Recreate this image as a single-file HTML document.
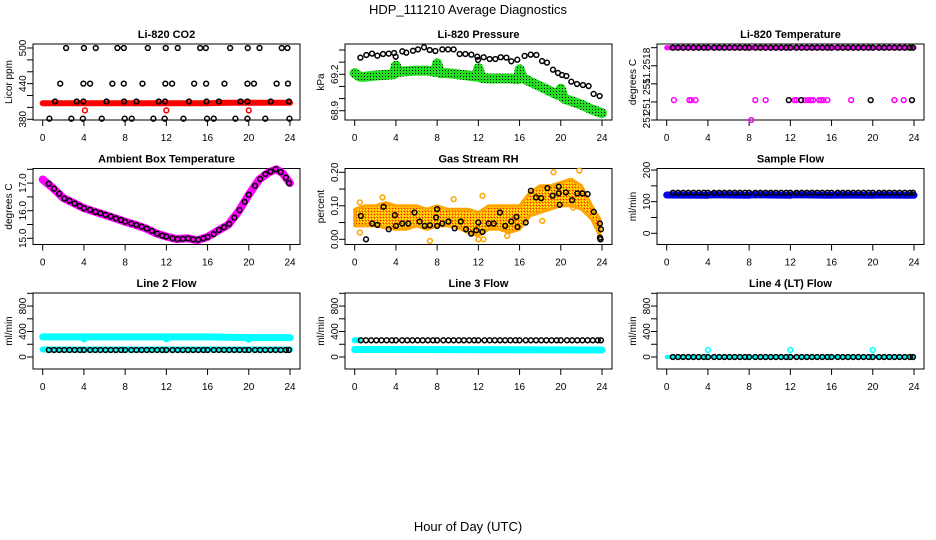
<!DOCTYPE html>
<html><head><meta charset="utf-8"><style>
html,body{margin:0;padding:0;background:#fff;}
svg{display:block;font-family:"Liberation Sans",sans-serif;}
</style></head><body>
<svg id="chart" width="936" height="540" viewBox="0 0 936 540" xmlns="http://www.w3.org/2000/svg">
<defs>
<pattern id="greenDots" width="3" height="3" patternUnits="userSpaceOnUse"><rect width="3" height="3" fill="#22dd22"/><rect x="1" y="1" width="1" height="1" fill="#000"/></pattern>
<pattern id="rhDots" width="3" height="3" patternUnits="userSpaceOnUse"><rect width="3" height="3" fill="#ffa500"/><rect x="0" y="0" width="1" height="1" fill="#ffff00"/><rect x="2" y="1" width="1" height="1" fill="#ff2200"/><rect x="1" y="2" width="1" height="1" fill="#ffff00"/></pattern>
</defs>
<text x="468" y="14" text-anchor="middle" font-size="13">HDP_111210  Average Diagnostics</text>
<text x="468" y="531" text-anchor="middle" font-size="13">Hour of Day (UTC)</text>
</svg>
<script>
// ---- shared hour grid for half-hourly averages ----
const halfHours = [0.6,1.1,1.6,2.1,2.6,3.1,3.6,4.0,4.6,5.1,5.6,6.1,6.6,7.1,7.6,8.0,8.6,9.1,9.6,10.1,10.6,11.1,11.6,12.0,12.6,13.1,13.6,14.1,14.6,15.1,15.6,16.0,16.6,17.1,17.6,18.1,18.6,19.1,19.6,20.0,20.6,21.1,21.6,22.1,22.6,23.1,23.6,23.9];
const xTicks = [0,4,8,12,16,20,24];

// ---- CO2 ----
const co2BlackHours = [2.27,4.0,5.15,7.25,7.87,10.2,11.94,13.1,15.28,15.83,18.19,19.9,21.04,23.2,23.75, 1.7,3.95,4.6,6.76,7.87,9.68,11.9,12.56,14.7,15.86,17.64,19.87,20.5,22.7,23.8, 1.2,3.3,3.95,6.2,7.9,9.1,11.26,11.88,14.2,15.9,17.1,19.2,19.87,22.13,23.9, 0.65,2.78,3.9,5.73,7.96,8.64,10.74,11.84,13.66,15.95,16.6,18.7,19.87,21.6,23.95];
const co2BlackPpm = [500,500,500,500,500,500,500,500,500,500,500,500,500,500,500, 440,440,440,440,440,440,440,440,440,440,440,440,440,440,440, 410,410,410,410,410,410,410,410,410,410,410,410,410,410,410, 381,381,381,381,381,381,381,381,381,381,381,381,381,381,381];
const co2RedHours = [0,2,4,6,8,10,12,14,16,18,20,22,24];
const co2RedPpm = [407,407,407,407,407,407,407,407,407,408,408,408,408];
const co2RedOutHours = [4.1,12.0,20.0];
const co2RedOutPpm = [395,395,395];

// ---- Pressure ----
const presBlackHours = [0.55,1.13,1.68,2.2,2.75,3.3,3.82,3.98,4.62,5.01,5.66,6.14,6.73,7.28,7.83,8.5,9.06,9.6,10.19,10.74,11.32,11.9,11.97,12.52,13.1,13.65,14.17,14.72,15.2,15.78,16.49,17.08,17.63,18.18,18.66,19.24,19.73,20.12,20.54,21.02,21.57,22.15,22.7,23.19,23.77];
const presBlackKpa = [69.337,69.359,69.370,69.353,69.367,69.370,69.375,69.345,69.389,69.378,69.394,69.405,69.422,69.400,69.392,69.405,69.405,69.405,69.367,69.367,69.362,69.345,69.318,69.340,69.326,69.326,69.340,69.337,69.307,69.320,69.351,69.362,69.359,69.309,69.296,69.238,69.211,69.194,69.186,69.139,69.120,69.112,69.103,69.038,69.021];
const presGreenHours = [0,0.5,1,2,3,3.8,4,4.3,5,6,7,7.8,8,8.3,9,10,11,11.8,12,12.3,13,14,15,15.9,16,16.3,17,18,19,19.7,20,20.3,21,22,23,24];
const presGreenKpa = [69.21,69.18,69.18,69.19,69.195,69.20,69.27,69.22,69.225,69.23,69.23,69.22,69.29,69.21,69.21,69.20,69.19,69.18,69.25,69.17,69.165,69.165,69.165,69.16,69.24,69.17,69.14,69.10,69.06,69.03,69.08,69.0,68.98,68.95,68.91,68.88];

// ---- Li-820 temperature ----
const tempTopBlack = [51.2520,51.2520,51.2520,51.2520,51.2520,51.2520,51.2520,51.2520,51.2520,51.2520,51.2520,51.2520,51.2520,51.2520,51.2520,51.2520,51.2520,51.2520,51.2520,51.2520,51.2520,51.2520,51.2520,51.2520,51.2520,51.2520,51.2520,51.2520,51.2520,51.2520,51.2520,51.2520,51.2520,51.2520,51.2520,51.2520,51.2520,51.2520,51.2520,51.2520,51.2520,51.2520,51.2520,51.2520,51.2520,51.2520,51.2520,51.2520];
const tempMagLineHours = [0,24];
const tempMagLineVals = [51.2520,51.2520];
const tempMagHours = [0.7,2.2,2.4,2.8,8.6,9.6,12.4,12.6,13.4,13.7,14.0,14.2,14.8,15.0,15.2,15.6,17.9,22.1,23.0,8.2];
const tempMagVals = [51.25142,51.25142,51.25142,51.25142,51.25142,51.25142,51.25142,51.25142,51.25142,51.25142,51.25142,51.25142,51.25142,51.25142,51.25142,51.25142,51.25142,51.25142,51.25142,51.2512];
const tempBlackOutHours = [11.85,13.05,19.8,23.8];
const tempBlackOutVals = [51.25142,51.25142,51.25142,51.25142];

// ---- Ambient box temperature ----
const ambBlack = [16.98,16.8,16.62,16.44,16.36,16.26,16.17,16.09,16.03,15.96,15.91,15.85,15.79,15.72,15.66,15.6,15.54,15.48,15.42,15.35,15.27,15.17,15.1,15.06,15.0,14.97,14.98,15.0,14.96,14.95,15.0,15.05,15.15,15.3,15.4,15.52,15.75,16.02,16.32,16.58,16.9,17.15,17.33,17.42,17.5,17.4,17.2,17.0];
const ambMagHours = [0,1,2,3,4,5,6,7,8,9,10,11,12,13,14,15,16,17,18,19,20,21,22,22.7,23.3,24];
const ambMagVals = [17.13,16.82,16.46,16.28,16.09,15.97,15.85,15.73,15.6,15.49,15.36,15.18,15.06,14.97,15.0,14.93,15.05,15.28,15.49,15.97,16.58,17.13,17.4,17.5,17.35,17.0];

// ---- Gas stream RH ----
const rhBandHours = [0,1,2,3,4,5,6,7,8,9,10,11,12,13,14,15,16,17,18,19,20,21,22,23,23.8];
const rhBandLow = [0.04,0.04,0.04,0.035,0.03,0.03,0.04,0.03,0.04,0.04,0.035,0.02,0.01,0.03,0.03,0.02,0.03,0.07,0.08,0.09,0.10,0.10,0.09,0.06,0.01];
const rhBandHigh = [0.09,0.10,0.10,0.11,0.10,0.10,0.10,0.09,0.10,0.09,0.09,0.09,0.08,0.10,0.10,0.10,0.10,0.14,0.16,0.16,0.17,0.18,0.16,0.10,0.06];
const rhOutHours = [0.5,0.5,2.7,7.3,9.6,12.4,12.0,12.5,14.8,18.2,19.3,21.8,21.2,23.9];
const rhOutVals = [0.02,0.11,0.125,-0.005,0.12,0.13,0.0,0.0,0.01,0.055,0.20,0.205,0.095,0.0];
const rhBlackHours = [0.6,1.1,1.7,2.2,2.8,3.3,3.9,4.0,4.6,5.2,5.8,6.3,6.8,7.3,7.9,8.0,8.0,8.5,9.1,9.7,10.3,10.8,11.3,11.8,12.0,12.4,13.0,13.5,14.1,14.6,15.2,15.7,15.8,16.6,17.1,17.6,18.1,18.7,19.2,19.8,19.8,19.9,20.5,21.1,21.6,22.1,22.6,23.2,23.8,23.9,23.8,23.85];
const rhBlackVals = [0.07,0.0,0.047,0.043,0.097,0.03,0.072,0.04,0.047,0.047,0.08,0.053,0.04,0.042,0.065,0.04,0.09,0.047,0.053,0.033,0.053,0.03,0.017,0.027,0.05,0.022,0.047,0.047,0.08,0.04,0.053,0.067,0.037,0.05,0.145,0.125,0.123,0.153,0.13,0.157,0.137,0.103,0.14,0.117,0.137,0.137,0.135,0.082,0.047,0.03,0.005,0.0];

// ---- Sample flow ----
const sampleBlack = [128,128,128,128,128,128,128,128,128,128,128,128,128,128,128,128,128,128,128,128,128,128,128,128,128,128,128,128,128,128,128,128,128,128,128,128,128,128,128,128,128,128,128,128,128,128,128,128];
const sampleBlueHours = [0,4,4.2,8,8.2,12,12.2,16,16.2,20,20.2,24];
const sampleBlueVals = [121,120,122,120,122,120,122,120,121,120,121,120];

// ---- Line 2 ----
const line2Black = [110,110,110,110,110,110,110,110,110,110,110,110,110,110,110,110,110,110,110,110,110,110,110,110,110,110,110,110,110,110,110,110,110,110,110,110,110,110,110,110,110,110,110,110,110,110,110,110];
const line2UpperHours = [0,3.9,4,4.1,8,11.9,12,12.1,16,19.9,20,20.1,24];
const line2UpperVals = [315,315,285,315,315,315,285,315,315,305,280,305,305];
const line2LowerHours = [0,24];
const line2LowerVals = [118,118];

// ---- Line 3 ----
const line3Black = [262,262,262,262,262,262,262,262,262,262,262,262,262,262,262,262,262,262,262,262,262,262,262,262,262,262,262,262,262,262,262,262,262,262,262,262,262,262,262,262,262,262,262,262,262,262,262,262];
const line3UpperHours = [0,0.4];
const line3UpperVals = [262,262];
const line3LowerHours = [0,24];
const line3LowerVals = [118,110];

// ---- Line 4 ----
const line4Black = [0,0,0,0,0,0,0,0,0,0,0,0,0,0,0,0,0,0,0,0,0,0,0,0,0,0,0,0,0,0,0,0,0,0,0,0,0,0,0,0,0,0,0,0,0,0,0,0];
const line4CyanHours = [0,24];
const line4CyanVals = [0,0];
const line4OutHours = [4,12,20];
const line4OutVals = [110,110,110];

// ---- axis tick definitions ----
const co2Ticks = [380,400,420,440,460,480,500];
const co2Labels = ["380","","","440","","","500"];
const presTicks = [68.9,69.0,69.1,69.2,69.3,69.4];
const presLabels = ["68.9","","","69.2","",""];
const tempTicks = [51.2512,51.2514,51.2516,51.2518,51.2520];
const tempLabels = ["251","251 2","51","51.2518",""];
const ambTicks = [15.0,15.5,16.0,16.5,17.0,17.5];
const ambLabels = ["15.0","","16.0","","17.0",""];
const rhTicks = [0,0.05,0.10,0.15,0.20];
const rhLabels = ["0.00","","0.10","","0.20"];
const sampleTicks = [0,50,100,150,200];
const sampleLabels = ["0","","100","","200"];
const flowTicks = [0,200,400,600,800,1000];
const flowLabels = ["0","","400","","800",""];

const NS = "http://www.w3.org/2000/svg";
const svg = document.getElementById('chart');
const ROWS = [44,168.5,293];

function el(tag, attrs, parent){
  const e = document.createElementNS(NS, tag);
  for (const k in attrs) e.setAttribute(k, attrs[k]);
  (parent||svg).appendChild(e);
  return e;
}

function makePanel(col,row,name,title,ylab,vTop,pTop,vBot,pBot,ticks,labels){
  const g = el('g',{});
  
  
  const x0 = 33 + 312*col, x1 = x0 + 267, y0 = ROWS[row], y1 = y0 + 76;
  const xs = t => x0 + 9.7 + t*(247.3/24);
  const ys = v => y0 + pTop + (v - vTop)*(pBot - pTop)/(vBot - vTop);
  const box = el('rect',{x:x0,y:y0,width:x1-x0,height:y1-y0,fill:'none',stroke:'#000','stroke-width':1},g);
  
  
  const tt = el('text',{x:(x0+x1)/2,y:y0-6,'text-anchor':'middle','font-size':11,'font-weight':'bold'},g);
  tt.textContent = title;
  
  
  // x axis
  const xa = el('g',{},g);
  
  
  el('line',{x1:xs(xTicks[0]),x2:xs(xTicks[xTicks.length-1]),y1:y1,y2:y1,stroke:'#000'},xa);
  xTicks.forEach(t=>{
    el('line',{x1:xs(t),x2:xs(t),y1:y1,y2:y1+6,stroke:'#000'},xa);
    const lb = el('text',{x:xs(t),y:y1+21,'text-anchor':'middle','font-size':10},xa);
    lb.textContent = String(t);
    
    
  });
  // y axis
  const ya = el('g',{},g);
  
  
  ticks.forEach((v,i)=>{
    const y = ys(v);
    el('line',{x1:x0-6,x2:x0,y1:y,y2:y,stroke:'#000'},ya);
    if (labels[i]) {
      const lb = el('text',{x:x0-7,y:y,'text-anchor':'middle','font-size':10,transform:`rotate(-90 ${x0-7} ${y})`},ya);
      lb.textContent = labels[i];
      
      
    }
  });
  const yt = el('text',{x:x0-21,y:(y0+y1)/2,'text-anchor':'middle','font-size':10,transform:`rotate(-90 ${x0-21} ${(y0+y1)/2})`},g);
  yt.textContent = ylab;
  
  
  return {g,xs,ys};
}

function band(p,name,hours,vals,color,w){
  const pts = hours.map((t,i)=>p.xs(t).toFixed(1)+','+p.ys(vals[i]).toFixed(1)).join(' ');
  const pl = el('polyline',{points:pts,fill:'none',stroke:color,'stroke-width':w,'stroke-linecap':'round','stroke-linejoin':'round'},p.g);
  
  
}
function dots(p,name,hours,vals,color,r,filled){
  const g = el('g',{},p.g);
  
  
  hours.forEach((t,i)=>{
    el('circle',{cx:p.xs(t),cy:p.ys(vals[i]),r:r||2.4,fill:filled?color:'none',stroke:color,'stroke-width':1.5},g);
  });
}

// CO2
let p = makePanel(0,0,'co2','Li-820 CO2','Licor ppm',500,4,380,75.3,co2Ticks,co2Labels);
band(p,'co2-red-band',co2RedHours,co2RedPpm,'#ff0000',6);
dots(p,'co2-red-outliers',co2RedOutHours,co2RedOutPpm,'#ff0000');
dots(p,'co2-black-points',co2BlackHours,co2BlackPpm,'#000');

// Pressure
p = makePanel(1,0,'pressure','Li-820 Pressure','kPa',69.4,6,68.9,66.7,presTicks,presLabels);
band(p,'pressure-green-band',presGreenHours,presGreenKpa,'url(#greenDots)',10);
dots(p,'pressure-black-points',presBlackHours,presBlackKpa,'#000');

// Temperature
p = makePanel(2,0,'li820-temp','Li-820 Temperature','degrees C',51.2520,3.7,51.2512,76,tempTicks,tempLabels);
band(p,'temp-magenta-band',tempMagLineHours,tempMagLineVals,'#ff00ff',5);
dots(p,'temp-black-top',halfHours,tempTopBlack,'#000');
dots(p,'temp-magenta-points',tempMagHours,tempMagVals,'#ff00ff');
dots(p,'temp-black-points',tempBlackOutHours,tempBlackOutVals,'#000');

// Ambient
p = makePanel(0,1,'ambient','Ambient Box Temperature','degrees C',17.5,0.8,15.0,69.8,ambTicks,ambLabels);
band(p,'ambient-magenta-line',ambMagHours,ambMagVals,'#ff00ff',8);
dots(p,'ambient-black-points',halfHours,ambBlack,'#000');

// RH
p = makePanel(1,1,'rh','Gas Stream RH','percent',0.2,3.8,0,70.8,rhTicks,rhLabels);
{
  const top = rhBandHours.map((t,i)=>p.xs(t).toFixed(1)+','+p.ys(rhBandHigh[i]).toFixed(1));
  const bot = rhBandHours.map((t,i)=>p.xs(t).toFixed(1)+','+p.ys(rhBandLow[i]).toFixed(1)).reverse();
  const poly = el('polygon',{points:top.concat(bot).join(' '),fill:'url(#rhDots)',stroke:'#ffa500','stroke-width':3,'stroke-linejoin':'round'},p.g);
  
  
}
dots(p,'rh-orange-outliers',rhOutHours,rhOutVals,'#ffa500');
dots(p,'rh-black-points',rhBlackHours,rhBlackVals,'#000');

// Sample flow
p = makePanel(2,1,'sample-flow','Sample Flow','ml/min',200,1.5,0,64.8,sampleTicks,sampleLabels);
band(p,'sample-blue-band',sampleBlueHours,sampleBlueVals,'#0000ee',7);
dots(p,'sample-black-points',halfHours,sampleBlack,'#000');

// Line 2
p = makePanel(0,2,'line2','Line 2 Flow','ml/min',1000,0.3,0,64,flowTicks,flowLabels);
band(p,'line2-cyan-upper',line2UpperHours,line2UpperVals,'#00ffff',7);
band(p,'line2-cyan-lower',line2LowerHours,line2LowerVals,'#00ffff',6);
dots(p,'line2-black-points',halfHours,line2Black,'#000');

// Line 3
p = makePanel(1,2,'line3','Line 3 Flow','ml/min',1000,0.3,0,64,flowTicks,flowLabels);
band(p,'line3-cyan-upper',line3UpperHours,line3UpperVals,'#00ffff',6);
band(p,'line3-cyan-lower',line3LowerHours,line3LowerVals,'#00ffff',7);
dots(p,'line3-black-points',halfHours,line3Black,'#000');

// Line 4
p = makePanel(2,2,'line4','Line 4 (LT) Flow','ml/min',1000,0.3,0,64,flowTicks,flowLabels);
band(p,'line4-cyan-line',line4CyanHours,line4CyanVals,'#00ffff',4);
dots(p,'line4-cyan-points',line4OutHours,line4OutVals,'#00ffff');
dots(p,'line4-black-points',halfHours,line4Black,'#000');
</script>
</body></html>
